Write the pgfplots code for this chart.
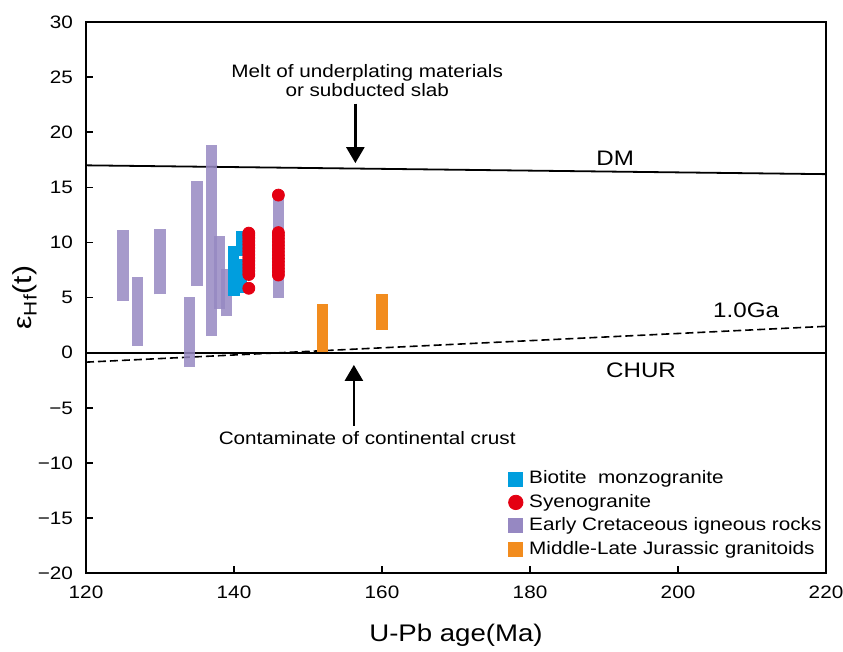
\documentclass[border=0pt]{standalone}
\usepackage{fontspec}
\setmainfont{Liberation Sans}[FakeStretch=1.15]
\usepackage{pgfplots}
\usepackage{pgfplotstable}
\pgfplotsset{compat=1.18}
\usetikzlibrary{arrows.meta}
\definecolor{purp}{RGB}{150,136,194}
\definecolor{bluec}{RGB}{0,158,222}
\definecolor{redc}{RGB}{228,0,18}
\definecolor{orangec}{RGB}{242,140,30}

\pgfplotstableread{
x lo hi
125 4.7 11.15
127 0.65 6.85
130 5.3 11.25
134 -1.3 5.1
135 6.05 15.55
137 1.5 18.85
138 4.0 10.55
139 3.3 7.6
146 5.0 14.7
}\purpledata

\pgfplotstableread{
x lo hi
141 5.4 11.05
140 5.15 9.65
}\bluedata

\pgfplotstableread{
x lo hi
141.1 8.5 8.75
}\notchdata

\pgfplotstableread{
x lo hi
152 0.1 4.4
160 2.1 5.35
}\orangedata

\pgfplotstableread{
x y
142 5.85
142 7.1
142 7.4
142 7.7
142 8.0
142 8.3
142 8.6
142 8.9
142 9.2
142 9.5
142 9.8
142 10.1
142 10.4
142 10.65
142 10.85
146 14.3
146 7.05
146 7.35
146 7.65
146 7.95
146 8.25
146 8.55
146 8.85
146 9.15
146 9.45
146 9.75
146 10.05
146 10.35
146 10.65
146 10.9
}\reddata

\begin{document}
\begin{tikzpicture}
\begin{axis}[
  scale only axis,
  width=370pt, height=275.65pt,
  xmin=120, xmax=220, ymin=-20, ymax=30,
  xtick={120,140,...,220},
  ytick={-20,-15,...,30},
  yticklabels={−20,−15,−10,−5,0,5,10,15,20,25,30},
  tick align=inside,
  xtick pos=bottom, ytick pos=left,
  major tick length=3.5pt,
  axis line style={line width=0.9pt},
  tick style={line width=0.8pt, black},
  /pgf/number format/assume math mode=true,
  ticklabel style={font=\fontsize{9}{10}\selectfont},
  yticklabel style={xshift=-3pt},
  xticklabel style={yshift=-3pt},
  xlabel={U-Pb age(Ma)},
  ylabel={ε\textsubscript{Hf}(t)},
  xlabel style={at={(axis description cs:0.5,0)}, anchor=center, yshift=-31pt, font=\fontsize{12}{14}\selectfont},
  ylabel style={at={(axis description cs:0,0.5)}, anchor=center, yshift=30.5pt, font=\fontsize{13}{15}\selectfont},
  legend style={draw=none, fill=none, at={(0.57,0.19)}, anchor=north west,
    font=\fontsize{9}{10}\selectfont, row sep=1.7pt, inner sep=0pt,
    nodes={inner sep=1pt}},
  legend cell align=left,
  clip=false,
]
\addlegendimage{legend image code/.code={\fill[bluec] (0pt,-3.5pt) rectangle (7pt,3.5pt); \path (9pt,0pt);}}
\addlegendentry{Biotite\ \ monzogranite}
\addlegendimage{legend image code/.code={\fill[redc] (3.5pt,0pt) circle (3.6pt); \path (9pt,0pt);}}
\addlegendentry{Syenogranite}
\addlegendimage{legend image code/.code={\fill[purp] (0pt,-3.5pt) rectangle (7pt,3.5pt); \path (9pt,0pt);}}
\addlegendentry{Early Cretaceous igneous rocks}
\addlegendimage{legend image code/.code={\fill[orangec] (0pt,-3.5pt) rectangle (7pt,3.5pt); \path (9pt,0pt);}}
\addlegendentry{Middle-Late Jurassic granitoids}

% reference lines
\addplot[forget plot, black, line width=0.9pt] coordinates {(120,17) (220,16.2)};
\addplot[forget plot, black, line width=0.9pt] coordinates {(120,0) (220,0)};
\addplot[forget plot, black, line width=0.8pt, dash pattern=on 4pt off 2pt] coordinates {(120,-0.85) (220,2.4)};

% purple bars
\addplot[forget plot, draw=none, mark=none,
  error bars/.cd, y dir=plus, y explicit, error mark=none,
  error bar style={line width=5.55pt, draw=purp, draw opacity=0.85}]
  table[x=x, y=lo, y error expr=\thisrow{hi}-\thisrow{lo}] {\purpledata};
% blue bars
\addplot[forget plot, draw=none, mark=none,
  error bars/.cd, y dir=plus, y explicit, error mark=none,
  error bar style={line width=5.55pt, draw=bluec}]
  table[x=x, y=lo, y error expr=\thisrow{hi}-\thisrow{lo}] {\bluedata};
\addplot[forget plot, draw=none, mark=none,
  error bars/.cd, y dir=plus, y explicit, error mark=none,
  error bar style={line width=3pt, draw=white}]
  table[x=x, y=lo, y error expr=\thisrow{hi}-\thisrow{lo}] {\notchdata};
% red dots
\addplot[forget plot, only marks, mark=*, mark size=3pt, mark options={draw=redc, fill=redc}]
  table[x=x, y=y] {\reddata};
% orange bars
\addplot[forget plot, draw=none, mark=none,
  error bars/.cd, y dir=plus, y explicit, error mark=none,
  error bar style={line width=5.55pt, draw=orangec}]
  table[x=x, y=lo, y error expr=\thisrow{hi}-\thisrow{lo}] {\orangedata};

% annotations
\node[align=center, font=\fontsize{9}{9.8}\selectfont] at (axis cs:158,24.7) {Melt of underplating materials\\or subducted slab};
\draw[line width=1.3pt, -{Triangle[width=9pt, length=8pt]}] (axis cs:156.4,22.6) -- (axis cs:156.4,17.2);
\draw[line width=1.3pt, -{Triangle[width=9pt, length=8pt]}] (axis cs:156.2,-6.6) -- (axis cs:156.2,-1.1);
\node[font=\fontsize{9}{10}\selectfont] at (axis cs:158,-7.73) {Contaminate of continental crust};
\node[font=\fontsize{10.5}{12}\selectfont] at (axis cs:191.5,17.6) {DM};
\node[font=\fontsize{10.5}{12}\selectfont] at (axis cs:209.2,3.9) {1.0Ga};
\node[font=\fontsize{10.5}{12}\selectfont] at (axis cs:195,-1.57) {CHUR};
\end{axis}
\pgfresetboundingbox
\path ([shift={(-43pt,-38.85pt)}]current axis.south west) rectangle ([shift={(8.5pt,11pt)}]current axis.north east);
\end{tikzpicture}
\end{document}
